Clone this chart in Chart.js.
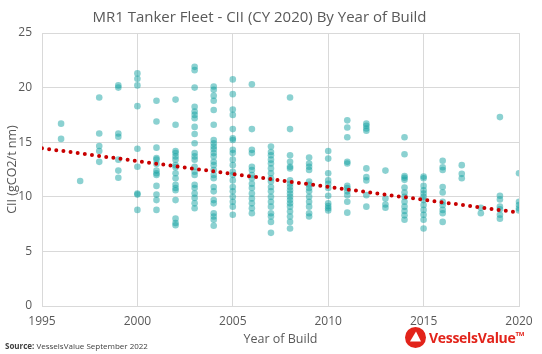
<!DOCTYPE html>
<html>
<head>
<meta charset="utf-8">
<script src="https://cdn.jsdelivr.net/npm/chart.js@4.4.0/dist/chart.umd.min.js"></script>
<style>
  body { margin: 0; background: #fff; }
  #wrap { position: relative; width: 542px; height: 354px; }
  #source { position: absolute; left: 5px; top: 340px; font: 8px "Open Sans", sans-serif; color: #404040; white-space: nowrap; }
  #logo { position: absolute; left: 405px; top: 327px; height: 21px; display: flex; align-items: center; }
  #logo span { font: bold 14px "Open Sans", sans-serif; color: #e2231a; margin-left: 3px; letter-spacing: -0.3px; }
  #logo sup { font-size: 6px; vertical-align: 7px; }
</style>
</head>
<body>
<div id="wrap">
  <canvas id="myChart"></canvas>
  <div id="source"><b>Source:</b> VesselsValue September 2022</div>
  <div id="logo">
    <svg width="21" height="21" viewBox="0 0 21 21"><circle cx="10.5" cy="10.5" r="10.5" fill="#e2231a"/><polygon points="5,14.5 11,4.5 16,14.5" fill="#fff"/></svg>
    <span>VesselsValue<sup>TM</sup></span>
  </div>
</div>
<script>
// year of build for each column of ships
var buildYears = [1996, 1997, 1998, 1999, 2000, 2001, 2002, 2003, 2004, 2005, 2006, 2007, 2008,
                  2009, 2010, 2011, 2012, 2013, 2014, 2015, 2016, 2017, 2018, 2019, 2020];

// CII values (gCO2/t nm) of the ships built that year
var ciiByYear = [
    [16.7, 15.3],
    [11.45],
    [19.1, 15.8, 14.65, 14.2, 13.2],
    [20.2, 20.0, 15.8, 15.5, 13.4, 12.4, 11.75],
    [21.3, 20.8, 20.2, 18.3, 14.4, 12.75, 10.3, 10.2, 8.8],
    [18.8, 16.9, 14.5, 13.55, 13.4, 13.0, 12.4, 12.15, 12.0, 11.0, 10.2, 9.7, 8.8],
    [18.9, 16.6, 14.2, 14.0, 13.7, 13.4, 12.9, 12.7, 12.15, 11.7, 11.1, 10.8, 10.6, 9.7, 8.0, 7.6, 7.4],
    [21.9, 21.6, 20.0, 18.25, 17.8, 17.5, 17.2, 16.4, 15.75, 14.9, 14.0, 13.7, 13.4, 12.75, 12.3, 12.0, 11.1, 10.8, 10.3, 9.9, 9.4, 8.95],
    [20.1, 19.8, 19.25, 18.8, 17.95, 16.6, 15.2, 14.9, 14.6, 14.35, 14.0, 13.7, 13.2, 12.9, 12.45, 12.0, 11.7, 10.9, 10.5, 9.7, 9.4, 8.5, 8.2, 7.9, 7.35],
    [20.75, 19.4, 18.0, 17.5, 16.2, 15.35, 15.2, 14.3, 14.0, 13.4, 12.9, 12.3, 12.0, 11.5, 10.9, 10.5, 10.0, 9.55, 9.1, 8.35],
    [20.3, 16.2, 14.3, 14.0, 12.75, 12.45, 12.0, 11.7, 11.2, 10.8, 10.3, 9.85, 9.4, 8.95, 8.5],
    [14.6, 14.1, 13.8, 13.4, 13.05, 12.6, 12.15, 11.7, 11.4, 10.9, 10.5, 10.0, 9.55, 9.1, 8.5, 8.2, 7.7, 6.7],
    [19.1, 16.2, 13.8, 13.2, 12.75, 12.6, 11.5, 11.2, 10.9, 10.6, 10.3, 10.0, 9.7, 9.4, 9.1, 8.65, 8.2, 7.7, 7.1],
    [13.6, 13.05, 12.75, 12.45, 11.4, 11.1, 10.8, 10.5, 10.0, 9.55, 9.1, 8.5, 8.2],
    [14.2, 13.5, 12.15, 11.5, 11.2, 10.8, 10.1, 9.4, 9.15, 8.95, 8.75],
    [17.0, 16.35, 15.45, 13.2, 13.05, 11.0, 10.8, 10.5, 10.15, 9.55, 8.55],
    [16.7, 16.5, 16.25, 16.05, 12.6, 11.8, 11.5, 10.15, 9.1],
    [12.4, 9.85, 9.3, 9.0],
    [15.45, 13.9, 11.9, 11.75, 11.55, 10.85, 10.4, 10.0, 9.55, 9.1, 8.7, 8.3, 7.9],
    [11.85, 11.7, 11.0, 10.6, 10.3, 10.0, 9.7, 9.25, 8.8, 8.35, 7.9, 7.1],
    [13.3, 12.7, 12.45, 10.9, 10.4, 9.55, 9.25, 8.8, 8.5, 7.7],
    [12.9, 12.1, 11.7],
    [9.0, 8.5],
    [17.3, 10.1, 9.75, 9.1, 8.85, 8.35, 8.0],
    [12.15, 9.55, 9.25, 8.95, 8.75]
];

// linear trend line end points
var trendYears = [1995, 2020];
var trendCii = [14.45, 8.55];

var xTicks = [1995, 2000, 2005, 2010, 2015, 2020];
var yTicks = [0, 5, 10, 15, 20, 25];

var points = [];
for (var i = 0; i < buildYears.length; i++) {
    for (var j = 0; j < ciiByYear[i].length; j++) {
        points.push({x: buildYears[i], y: ciiByYear[i][j]});
    }
}
var trend = [];
for (var k = 0; k < trendYears.length; k++) {
    trend.push({x: trendYears[k], y: trendCii[k]});
}

var gray = '#595959';
var gridColor = '#d9d9d9';
Chart.defaults.font.family = '"Open Sans", sans-serif';
Chart.defaults.color = gray;

var ctx = document.getElementById('myChart');
new Chart(ctx, {
    type: 'scatter',
    data: {
        datasets: [{
            type: 'line',
            label: 'Trend',
            data: trend,
            borderColor: '#c80000',
            borderWidth: 4,
            borderDash: [0, 7.2],
            borderCapStyle: 'round',
            pointRadius: 0,
            fill: false,
            order: 0
        },
        {
            label: 'CII',
            data: points,
            backgroundColor: 'rgba(24, 163, 163, 0.5)',
            borderWidth: 0,
            pointRadius: 3.3,
            order: 1
        }]
    },
    options: {
        responsive: true,
        maintainAspectRatio: false,
        animation: false,
        layout: { padding: { top: 0, right: 23, bottom: 0, left: 0 } },
        plugins: {
            legend: { display: false },
            tooltip: { enabled: false },
            title: {
                display: true,
                text: 'MR1 Tanker Fleet - CII (CY 2020) By Year of Build',
                color: gray,
                font: { size: 15, weight: 'normal' },
                padding: { top: 9, bottom: 6 }
            }
        },
        scales: {
            x: {
                type: 'linear',
                min: xTicks[0],
                max: xTicks[xTicks.length - 1],
                afterBuildTicks: function(scale) {
                    scale.ticks = xTicks.map(function(v) { return {value: v}; });
                },
                afterFit: function(scale) { scale.height = 48; },
                ticks: {
                    padding: 8,
                    font: { size: 12 },
                    callback: function(v) { return String(v); }
                },
                grid: { color: gridColor, drawTicks: false },
                border: { color: gridColor },
                title: {
                    display: true,
                    text: 'Year of Build',
                    font: { size: 12.5 },
                    padding: { top: 0, bottom: 7 }
                }
            },
            y: {
                min: yTicks[0],
                max: yTicks[yTicks.length - 1],
                afterBuildTicks: function(scale) {
                    scale.ticks = yTicks.map(function(v) { return {value: v}; });
                },
                afterFit: function(scale) { scale.width = 42; },
                ticks: {
                    padding: 10,
                    font: { size: 12 }
                },
                grid: { color: gridColor, drawTicks: false },
                border: { color: gridColor },
                title: {
                    display: true,
                    text: 'CII (gCO2/t nm)',
                    font: { size: 12.5 },
                    padding: { top: 5, bottom: 0 }
                }
            }
        }
    }
});
</script>
</body>
</html>
